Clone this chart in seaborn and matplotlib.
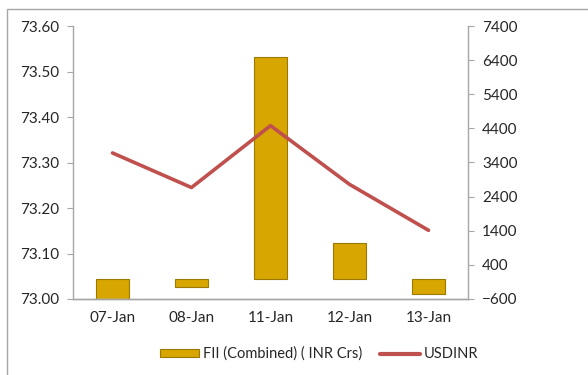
import numpy as np
import pandas as pd
import matplotlib
matplotlib.use("Agg")
import matplotlib.pyplot as plt
from matplotlib.patches import Rectangle, Patch
from matplotlib.lines import Line2D
import seaborn as sns

dates = ['07-Jan', '08-Jan', '11-Jan', '12-Jan', '13-Jan']
fii = [-620, -250, 6480, 1030, -460]
usdinr = [73.321, 73.245, 73.381, 73.252, 73.151]

df = pd.DataFrame({'date': dates, 'fii': fii, 'usdinr': usdinr})

sns.set_style("white")
plt.rcParams['font.family'] = ['Lato', 'DejaVu Sans']

fig = plt.figure(figsize=(5.88, 3.75), dpi=100)
ax = fig.add_axes([73/588, 1-299/375, 395/588, 273/375])
ax2 = ax.twinx()

gray = '#A6A6A6'
txt = '#262626'

# bars on the right axis, drawn underneath
sns.barplot(data=df, x='date', y='fii', ax=ax2, color='#D8A600', width=0.42,
            edgecolor='#9C7A00', linewidth=0.8, saturation=1)
ax2.set_ylim(-600, 7400)
ax2.set_yticks(np.arange(-600, 7401, 1000))
ax2.set_facecolor('#F0F0F0')
ax2.set_ylabel('')

# line on the left axis, on top
ax.set_zorder(ax2.get_zorder() + 1)
ax.patch.set_visible(False)
sns.lineplot(data=df, x='date', y='usdinr', ax=ax, color='#C0504D', linewidth=2.6,
             sort=False)
ax.set_ylim(73.0, 73.6)
ax.set_yticks(np.arange(73.0, 73.61, 0.1))
ax.set_yticklabels([f'{v:.2f}' for v in np.arange(73.0, 73.61, 0.1)])
ax.set_xlim(-0.5, 4.5)
ax.set_xlabel('')
ax.set_ylabel('')
ax2.set_xlabel('')

for a in (ax, ax2):
    for s in a.spines.values():
        s.set_color(gray)
        s.set_linewidth(1)
    a.spines['top'].set_visible(False)
ax.spines['right'].set_visible(False)
ax2.spines['left'].set_visible(False)

ax.tick_params(axis='y', direction='out', length=4, color=gray, labelsize=11,
               labelcolor=txt, pad=6, left=True)
ax2.tick_params(axis='y', direction='out', length=4, color=gray, labelsize=11,
                labelcolor=txt, pad=6, right=True)
ax.tick_params(axis='x', length=0, labelsize=11, labelcolor=txt, pad=9)
ax2.tick_params(axis='x', length=0)

handles = [Patch(facecolor='#D8A600', edgecolor='#9C7A00', linewidth=0.8),
           Line2D([], [], color='#C0504D', linewidth=3)]
labels = ['FII (Combined) ( INR Crs)', 'USDINR']
fig.legend(handles, labels, loc='center', bbox_to_anchor=(319/588, 1-354/375), ncol=2,
           frameon=False, fontsize=10.5, handlelength=2.7, handleheight=0.4,
           columnspacing=1.2, handletextpad=0.3, labelcolor=txt)

# outer chart border (cut at the right and bottom)
fig.patches.append(Rectangle((7/588, -0.2), 1.5, 1.2 - 8.7/375, transform=fig.transFigure,
                             fill=False, edgecolor=gray, linewidth=1))

plt.savefig('out.png', dpi=100)
